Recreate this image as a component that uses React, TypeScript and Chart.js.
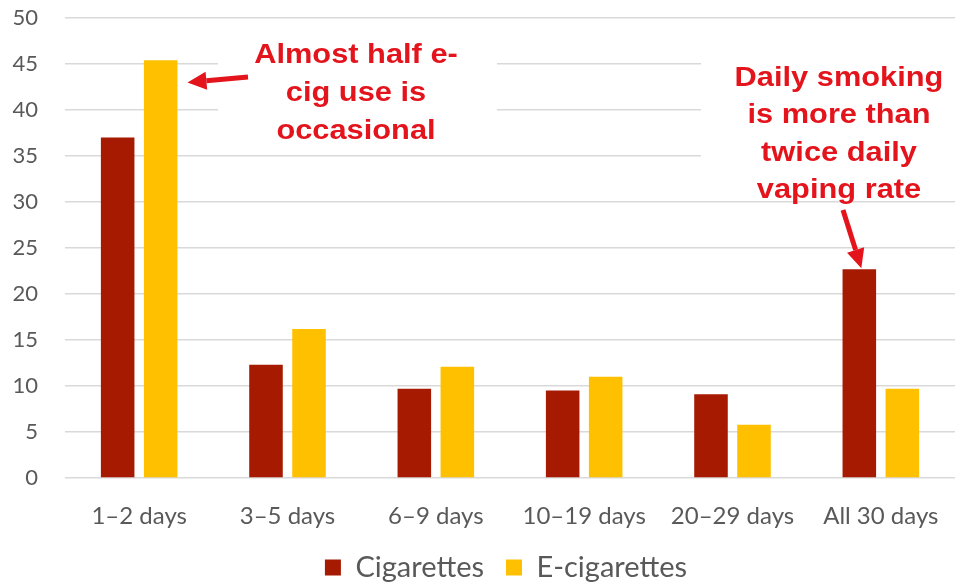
import React, { useEffect, useRef } from "react";
import { Chart, registerables } from "chart.js";

Chart.register(...registerables);

const categories = ["1–2 days", "3–5 days", "6–9 days", "10–19 days", "20–29 days", "All 30 days"];
const cigarettes = [37.0, 12.3, 9.7, 9.5, 9.1, 22.7];
const eCigarettes = [45.4, 16.2, 12.1, 11.0, 5.8, 9.7];
const yTicks = [0, 5, 10, 15, 20, 25, 30, 35, 40, 45, 50];
const noteLeft = ["Almost half e-", "cig use is", "occasional"];
const noteRight = ["Daily smoking", "is more than", "twice daily", "vaping rate"];

const RED = "#E3141C";
const FONT = "Lato, 'Open Sans', sans-serif";

function drawArrow(ctx: CanvasRenderingContext2D, x1: number, y1: number, x2: number, y2: number) {
  const ang = Math.atan2(y2 - y1, x2 - x1);
  const head = 19;
  const hw = 9;
  const bx = x2 - head * Math.cos(ang);
  const by = y2 - head * Math.sin(ang);
  ctx.save();
  ctx.strokeStyle = RED;
  ctx.fillStyle = RED;
  ctx.lineWidth = 5;
  ctx.beginPath();
  ctx.moveTo(x1, y1);
  ctx.lineTo(bx, by);
  ctx.stroke();
  ctx.beginPath();
  ctx.moveTo(x2, y2);
  ctx.lineTo(bx + hw * Math.sin(ang), by - hw * Math.cos(ang));
  ctx.lineTo(bx - hw * Math.sin(ang), by + hw * Math.cos(ang));
  ctx.closePath();
  ctx.fill();
  ctx.restore();
}

function drawNote(ctx: CanvasRenderingContext2D, lines: string[], cx: number, y0: number, step: number) {
  ctx.save();
  ctx.fillStyle = RED;
  ctx.font = "bold 28px 'Liberation Sans', Arial, sans-serif";
  ctx.textAlign = "center";
  ctx.textBaseline = "middle";
  ctx.translate(cx, 0);
  ctx.scale(1.1, 1);
  lines.forEach((t, i) => ctx.fillText(t, 0, y0 + i * step));
  ctx.restore();
}

const annotationPlugin = {
  id: "notes",
  beforeDraw(chart: any) {
    if (chart.legend) chart.legend.left = 57;
  },
  beforeDatasetsDraw(chart: any) {
    const ctx = chart.ctx as CanvasRenderingContext2D;
    ctx.save();
    ctx.fillStyle = "#ffffff";
    ctx.fillRect(218, 30, 279, 118);
    ctx.fillRect(701, 40, 257, 140);
    ctx.restore();
  },
  afterDatasetsDraw(chart: any) {
    const ctx = chart.ctx as CanvasRenderingContext2D;
    drawNote(ctx, noteLeft, 356, 55, 38);
    drawNote(ctx, noteRight, 839, 78, 37.5);
    const yS = chart.scales.y;
    const m1 = chart.getDatasetMeta(1).data[0];
    drawArrow(ctx, 248, 77, m1.x + m1.width / 2 + 10, yS.getPixelForValue(43));
    const m0 = chart.getDatasetMeta(0).data[5];
    drawArrow(ctx, 843, 210, m0.x + 2, m0.y - 1);
  },
};

function zeroPad(s: any) {
  s.paddingTop = 0;
  s.paddingBottom = 0;
  s.paddingLeft = 0;
  s.paddingRight = 0;
}

export default function App() {
  const ref = useRef<HTMLCanvasElement>(null);
  useEffect(() => {
    document.body.style.margin = "0";
    const chart = new Chart(ref.current!, {
      type: "bar",
      data: {
        labels: categories,
        datasets: [
          {
            label: "Cigarettes",
            data: cigarettes,
            backgroundColor: "#A51A00",
            categoryPercentage: 0.58,
            barPercentage: 0.78,
          },
          {
            label: "E-cigarettes",
            data: eCigarettes,
            backgroundColor: "#FFC000",
            categoryPercentage: 0.58,
            barPercentage: 0.78,
          },
        ],
      },
      options: {
        animation: false,
        responsive: true,
        maintainAspectRatio: false,
        layout: { autoPadding: false, padding: { top: 18, right: 3, left: 0, bottom: -8 } },
        plugins: {
          legend: {
            position: "bottom",
            labels: {
              boxWidth: 16,
              boxHeight: 16,
              padding: 22,
              color: "#595959",
              font: { size: 29, family: FONT },
            },
          },
          tooltip: { enabled: false },
        },
        scales: {
          x: {
            grid: { display: false, drawTicks: false },
            border: { display: false },
            afterFit: (s: any) => {
              s.height = 53;
              zeroPad(s);
            },
            ticks: {
              color: "#595959",
              padding: 24,
              font: { size: 24, family: FONT },
              maxRotation: 0,
              autoSkip: false,
            },
          },
          y: {
            min: 0,
            max: 50,
            afterFit: (s: any) => {
              s.width = 65;
              zeroPad(s);
            },
            afterBuildTicks: (axis: any) => {
              axis.ticks = yTicks.map((v) => ({ value: v }));
            },
            grid: { color: "#D9D9D9", lineWidth: 1.5, drawTicks: false },
            border: { display: false },
            ticks: {
              color: "#595959",
              padding: 27,
              font: { size: 22, family: FONT },
            },
          },
        },
      },
      plugins: [annotationPlugin],
    });
    return () => chart.destroy();
  }, []);
  return (
    <div style={{ width: 958, height: 584, position: "relative", background: "#fff" }}>
      <canvas ref={ref} />
    </div>
  );
}
